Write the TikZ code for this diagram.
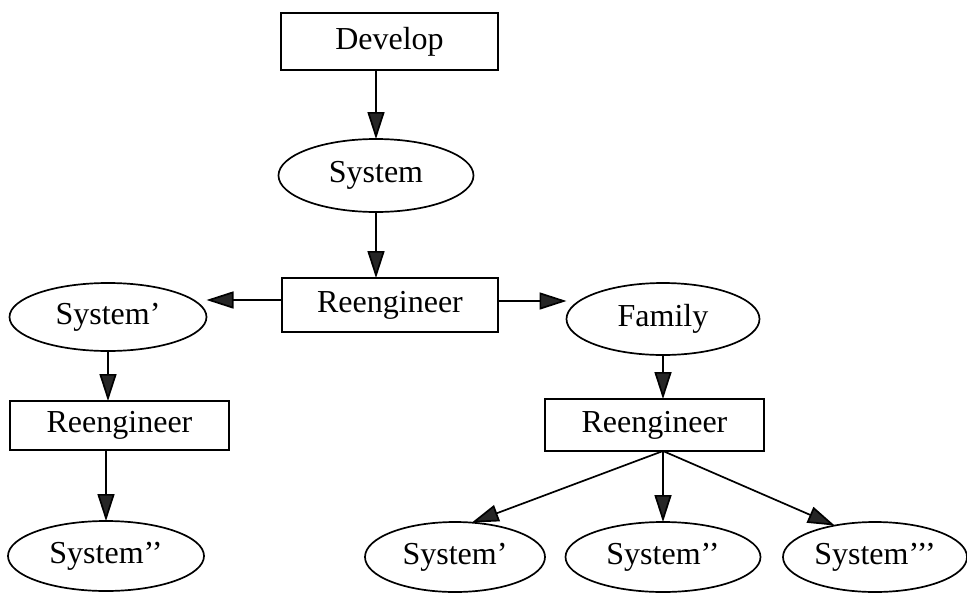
\documentclass[tikz,border=0pt]{standalone}
\usepackage{fontspec}
\setmainfont{Liberation Serif}
\usetikzlibrary{arrows.meta,shapes.geometric}

% separate right quotes, kept from merging into a double quote
\newcommand{\pr}{\textquoteright}

\tikzset{
  every node/.style={font=\fontsize{32}{38}\selectfont, inner sep=0pt, outer sep=0pt},
  taskbox/.style={draw, line width=1.7pt, rectangle},
  artefact/.style={draw, line width=1.7pt, ellipse},
  flow/.style={line width=1.7pt,
    -{Triangle[length=27pt,width=17pt,fill=black!85]}},
}

\begin{document}
\begin{tikzpicture}[x=1pt,y=-1pt]
  \useasboundingbox (0,0) rectangle (967,592);

  % top chain
  \node[taskbox, minimum width=217pt, minimum height=57pt] (develop) at (389.5,41.5) {Develop};
  \node[artefact, minimum width=195pt, minimum height=73pt] (system) at (376,175.5) {System};
  \node[taskbox, minimum width=216pt, minimum height=54pt] (reengM) at (390,305) {Reengineer};

  % left branch
  \node[artefact, minimum width=197pt, minimum height=68pt] (sysL) at (108,317) {System\pr};
  \node[taskbox, minimum width=219pt, minimum height=49pt] (reengL) at (119.5,425.5) {Reengineer};
  \node[artefact, minimum width=196pt, minimum height=70pt] (sysLL) at (106,556) {System\pr\pr};

  % right branch
  \node[artefact, minimum width=193pt, minimum height=72pt] (family) at (663,319) {Family};
  \node[taskbox, minimum width=219pt, minimum height=52pt] (reengR) at (654.5,425) {Reengineer};
  \node[artefact, minimum width=180pt, minimum height=70pt] (sysB1) at (455,557) {System\pr};
  \node[artefact, minimum width=195pt, minimum height=70pt] (sysB2) at (663,557) {System\pr\pr};
  \node[artefact, minimum width=184pt, minimum height=70pt] (sysB3) at (875,557) {System\pr\pr\pr};

  \coordinate (fan) at (family.south |- reengR.south);

  % connectors
  \draw[flow] (system.north |- develop.south) -- (system.north);
  \draw[flow] (system.south) -- (system.south |- reengM.north);
  \draw[flow] ([yshift=5pt]reengM.west) -- ([yshift=5pt]reengM.west -| sysL.east);
  \draw[flow] ([yshift=4pt]reengM.east) -- ([yshift=4pt]reengM.east -| family.west);
  \draw[flow] (sysL.south) -- (sysL.south |- reengL.north);
  \draw[flow] (sysLL.north |- reengL.south) -- (sysLL.north);
  \draw[flow] (family.south) -- (family.south |- reengR.north);
  \draw[flow] (fan) -- (sysB1.64);
  \draw[flow] (fan) -- (sysB2.north);
  \draw[flow] (fan) -- (sysB3.142);
\end{tikzpicture}
\end{document}
